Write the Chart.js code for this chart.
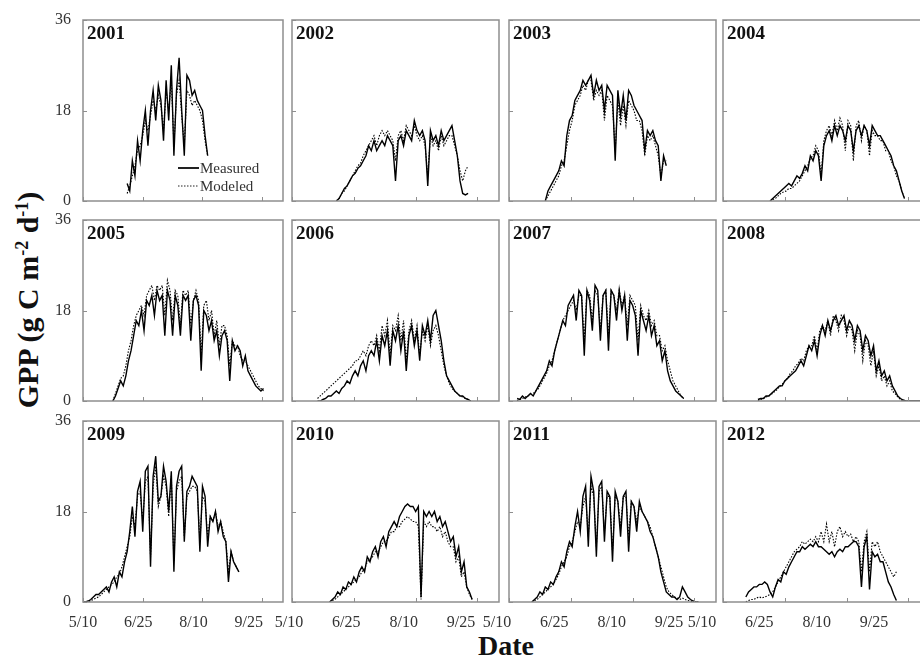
<!DOCTYPE html>
<html lang="en">
<head>
<meta charset="UTF-8">
<title>GPP measured vs modeled, 2001-2012</title>
<script src="https://cdn.jsdelivr.net/npm/chart.js"></script>
<style>
  body { margin: 0; background: #fff; }
  #wrap { position: relative; width: 920px; height: 657px; overflow: hidden; font-family: "Liberation Serif", serif; }
  #wrap canvas { position: absolute; }
  .ytitle { position: absolute; left: 28px; top: 300px; transform: translate(-50%, -50%) rotate(-90deg);
            font-weight: bold; font-size: 30px; white-space: nowrap; color: #111; }
  .ytitle sup { font-size: 0.6em; vertical-align: 0.55em; }
  .xtitle { position: absolute; left: 506px; top: 646px; transform: translate(-50%, -50%);
            font-weight: bold; font-size: 28px; color: #111; }
</style>
</head>
<body>
<div id="wrap">
  <div class="ytitle">GPP (g C m<sup>-2</sup> d<sup>-1</sup>)</div>
  <div class="xtitle">Date</div>
</div>
<script>
// day-of-year ticks shared by every panel
const tickDays = [130, 176, 222, 268];
const tickLabels = ['5/10', '6/25', '8/10', '9/25'];
const yTicks = [0, 18, 36];
const years = [2001, 2002, 2003, 2004, 2005, 2006, 2007, 2008, 2009, 2010, 2011, 2012];
// first day of year of each series, values every 2 days after that
const firstDay = [164, 163, 157, 165, 153, 149, 136, 156, 130, 158, 147, 147];
const dayStep = 2;

const measured2001 = [3.5,2,8,5,12,8,14,18,11,18,22,16,23,20,12,24,16,27,9,22,28.5,18,9,25,24,21,22,20,19,18,13,9];
const modeled2001 = [1.5,3,5,7,10,11,13,16,14,17,20,18,21,19,14,22,18,24,11,21,24,17,11,22,21,19,20,19,18,16,12,9];

const measured2002 = [0,0.5,1.5,2.5,3,4,5,5.5,6.5,7,8,9,11,10,12,10,11,12,11,13,12,11,4,12,13,11,14,13,12,16,14,13,14,12,3,14,12,13,11,14,12,13,14,15,12,9,4,1.5,1.2,1.5];
const modeled2002 = [0,0.5,1.5,2,3,4,5,6,7,7.5,9,10,11,12,13,11,13,14,13,14,13,12,8,13,14,12,15,14,13,15,13,12,13,11,5,13,11,12,10,13,11,12,13,13,11,9,6,4,6,7];

const measured2003 = [0,2,3,4,5,6,8,7,13,16,17,20,21,22,24,23,24,25,21,24,22,23,18,23,22,21,8,22,17,21,16,22,21,19,18,17,16,10,14,13,14,12,11,4,9,7];
const modeled2003 = [0,1,2,3,4,5,7,8,11,14,16,19,20,21,23,22,24,24,20,22,21,22,16,21,20,19,10,20,15,19,15,20,19,18,16,16,14,9,13,12,13,11,9,5,8,8];

const measured2004 = [0,0.5,1,1.5,2,2.5,3,3.5,3,4,5,4.5,5.5,7,6,9,8,10,9,4,11,13,14,12,15,13,15,14,12,15,14,10,14,15,13,15,14,11,15,14,13,13,12,11,10,9,7,6,4,2,0.5];
const modeled2004 = [0,0.3,0.5,1,1.5,1.8,2,2.5,2.5,3,3.5,4,5,6,7,8.5,9,11,10,5,12,14,15,13,16,14,16.5,15,10,16,15,8,15,16,12,15,14,9,14,13,13,12,12,10,10,8,7,5,4,2,0.5];

const measured2005 = [0,1,2.5,4,3,5,8,10,13,16,15,18,14,20,19,21,17,22,20,21,13,22,20,13,21,19,13,21,20,21,12,20,21,19,6,18,17,14,16,12,14,9,13,14,12,4,12,10,11,10,7,9,6,5,4,3,2.5,2,2.5];
const modeled2005 = [0,1.5,3,4.5,5,7,10,12,15,17,18,19,17,21,22,23,20,23,22,23,17,24,22,16,22,21,15,22,21,22,15,20,22,20,9,19,20,16,18,13,16,11,15,15,13,7,12,11,11,9,8,8,7,6,5,4,3,2.5,2];

const measured2006 = [0,0,0.3,0.5,1,1,1.5,2,1.5,2.5,3,4,3.5,5,6,5,7,8,6,9,10,9,12,8,13,11,14,7,14,12,15,10,14,6,13,15,11,14,8,15,13,16,12,17,18,15,12,8,5,4,3,2,1.5,1,1,0.5,0.3,0];
const modeled2006 = [0.5,1,1.5,2,2.5,3,3.5,4,4.5,5,5.5,6,6.5,7,8,8,9,10,9,11,12,11,13,10,15,13,16,9,15,14,17,12,16,8,14,16,12,15,9,14,12,15,11,14,15,13,10,7,5,3.5,2.5,2,1.5,1,0.8,0.5,0.3,0];

const measured2007 = [0.5,0.3,1,0.5,1,1.5,1,2,3,4,5,6,8,7,10,12,14,16,15,19,20,21,16,22,21,9,22,20,14,23,22,12,21,22,10,22,21,16,22,18,21,12,20,19,17,9,18,16,14,17,13,15,11,12,8,10,6,4,3,2,1.5,1,0.5];
const modeled2007 = [0,0.3,0.5,0.8,1,1.2,1.5,2,2.5,3.5,4.5,5.5,7,8,10,12,14,16,17,18,19,20,18,21,21,12,22,21,16,22,21,14,21,22,13,22,21,18,22,19,21,15,21,20,19,12,19,17,16,18,15,16,13,13,10,11,8,6,4,3,2,1,0.5];

const measured2008 = [0.3,0.5,0.5,1,1,1.5,2,2.5,3,3,4,4.5,5,5.5,6,7,8,7,9,11,10,12,9,13,15,13,16,14,16,17,15,16,17,14,16,15,12,15,14,10,13,12,9,11,6,8,5,6,4,5,3,2,1,0.5,0.2,0,0,0,0,0,0,0,0,0];
const modeled2008 = [0,0.3,0.5,0.8,1,1.3,1.8,2.2,2.8,3.3,4,4.5,5.5,6,7,7.5,8.5,8,10,11,11,13,10,14,15,14,16,13,17,16,14,17,16,13,15,14,10,14,13,8,12,11,7,10,5,7,4,5,3,4,2,1.5,0.8,0.3,0,0];

const measured2009 = [0,0,0.2,0.5,1,1.5,1.5,2,2.5,3,2,4,5,3,6,5,8,10,14,19,13,22,24,14,26,27,7,25,29,20,21,27,24,18,26,6,23,26,27,12,22,23,25,24,23,10,23,21,11,17,16,18,14,16,13,12,4,10,8,7,6];
const modeled2009 = [0,0,0,0.3,0.5,0.8,1,1.5,2,2.5,3,3.5,4,5,5.5,7,9,11,13,17,15,21,22,16,24,25,9,23,27,19,21,25,23,17,25,8,22,24,25,13,21,22,23,23,22,12,21,20,13,17,16,18,15,16,14,12,6,10,8,7,6];

const measured2010 = [0,0.5,1,2,1.5,3,2.5,4,3.5,5,4,6,7,6,9,8,10,11,9,12,13,11,14,15,16,15,17,18,19,19.5,19,19,18,19,1,18,17,18,17,18,16,17,15,16,14,12,13,9,11,6,8,3,2,0.5];
const modeled2010 = [0,0.3,0.5,1,1.5,2,2.5,3,3.5,4,4.5,5,6,6.5,8,8.5,9,10,10,11,12,12,13,14,14,15,15,16,16.5,17,16.5,16,16,15,0.5,16,15,16,15,15,14,15,13,14,12,11,11,8,9,5,6,3,1.5,0.5];

const measured2011 = [0,0.5,1,2,1.5,3,2.5,4,3.5,5,6,8,7,10,12,11,15,18,14,21,23,11,25,22,9,23,24,12,22,21,8,22,20,13,21,22,10,20,19,14,20,18,17,16,14,13,11,9,6,4,2,1.5,1,1,0.5,1,3,2,1,0.5,0.2,0,0];
const modeled2011 = [0,0.3,0.5,1,1.5,2,2.5,3,3.5,4.5,5.5,7,8,9,11,12,14,16,15,19,21,13,23,21,11,22,23,14,21,21,10,21,20,15,21,21,13,20,19,16,19,18,17,16,15,13,11,9,7,5,3,2,1.5,1,0.8,0.5,0.8,0.5,0.3,0.2,0,0,0];

const measured2012 = [1,2,2.5,3,3,3.5,3.5,4,3.5,2,1,3,4.5,4,6,5.5,7,8,9,10,10,11,10.5,11,11.5,11,12,11,11,10.5,10,9.5,10,9,10,10.5,10,11,11,11.5,12,12,11,3,11,13,2.5,10,9,9.5,8,8,6,4,3,1.5,0.3];
const modeled2012 = [0,0.3,0.5,0.5,0.8,1,0.8,1,1.2,1.5,2,3,4,5,6,7,8,9,10,10.5,11,12,11.5,12,12.5,12,13,12,14,12,15.5,12,14,11,14,15,13,14,13,13.5,12,13,12,6,12,14,6,12,11,12,10,9,8,7,6,5,6];

const measuredByYear = [measured2001, measured2002, measured2003, measured2004, measured2005, measured2006,
                        measured2007, measured2008, measured2009, measured2010, measured2011, measured2012];
const modeledByYear = [modeled2001, modeled2002, modeled2003, modeled2004, modeled2005, modeled2006,
                       modeled2007, modeled2008, modeled2009, modeled2010, modeled2011, modeled2012];

// panel layout (plot box of each small chart)
const colLeft = [83, 292, 509, 723];
const colWidth = [200, 207, 207, 207];
const rowTop = [20, 220, 421];
const rowHeight = 181;
// date labels sit a little left of their ticks, more so further right
const labelShift = [0, -3, -12, -21];
const labelDrift = -4.5;
const PAD_L = 70, PAD_T = 12, PAD_R = 4, PAD_B = 40;
const FONT = '"Liberation Serif", "Times New Roman", serif';

function toPoints(values, start) {
  return values.map((v, i) => ({ x: start + i * dayStep, y: v }));
}

// box, inward tick marks, date labels, year label and (first panel) the legend
const panelDecor = {
  id: 'panelDecor',
  afterDraw(chart) {
    const o = chart.options.plugins.panelDecor;
    const { ctx, chartArea: a, scales } = chart;
    ctx.save();
    ctx.strokeStyle = '#8e8e8e';
    ctx.lineWidth = 1.5;
    ctx.strokeRect(a.left, a.top, a.width, a.height);
    ctx.beginPath();
    scales.x.ticks.forEach(t => {
      const px = Math.round(scales.x.getPixelForValue(t.value)) + 0.5;
      ctx.moveTo(px, a.bottom);
      ctx.lineTo(px, a.bottom - 4);
    });
    scales.y.ticks.forEach(t => {
      const py = Math.round(scales.y.getPixelForValue(t.value)) + 0.5;
      ctx.moveTo(a.left, py);
      ctx.lineTo(a.left + 4, py);
    });
    ctx.lineWidth = 1;
    ctx.stroke();

    if (o.dateLabels) {
      ctx.fillStyle = '#333';
      ctx.font = '16px ' + FONT;
      ctx.textAlign = 'center';
      ctx.textBaseline = 'middle';
      scales.x.ticks.forEach((t, i) => {
        const px = scales.x.getPixelForValue(t.value) + o.shift + i * labelDrift;
        ctx.fillText(tickLabels[tickDays.indexOf(t.value)], px, a.bottom + 21);
      });
      ctx.textAlign = 'left';
    }

    ctx.fillStyle = '#111';
    ctx.font = 'bold 19px ' + FONT;
    ctx.textBaseline = 'top';
    ctx.fillText(String(o.year), a.left + 4, a.top + 5);

    if (o.legend) {
      ctx.font = '15px ' + FONT;
      ctx.fillStyle = '#333';
      ctx.textBaseline = 'middle';
      chart.data.datasets.forEach((ds, i) => {
        const y = a.bottom - 33 + i * 18;
        const x0 = a.right - 105;
        ctx.beginPath();
        ctx.setLineDash(ds.borderDash || []);
        ctx.strokeStyle = '#222';
        ctx.lineWidth = ds.borderDash ? 1 : 2;
        ctx.moveTo(x0, y);
        ctx.lineTo(x0 + 21, y);
        ctx.stroke();
        ctx.setLineDash([]);
        ctx.fillText(ds.label, x0 + 22, y + 1);
      });
    }
    ctx.restore();
  }
};

const wrap = document.getElementById('wrap');

years.forEach((year, k) => {
  const row = Math.floor(k / 4), col = k % 4;
  const cv = document.createElement('canvas');
  cv.width = PAD_L + colWidth[col] + PAD_R;
  cv.height = PAD_T + rowHeight + PAD_B;
  cv.style.left = (colLeft[col] - PAD_L) + 'px';
  cv.style.top = (rowTop[row] - PAD_T) + 'px';
  wrap.appendChild(cv);

  new Chart(cv, {
    type: 'line',
    data: {
      datasets: [
        { label: 'Measured', data: toPoints(measuredByYear[k], firstDay[k]),
          borderColor: '#000', borderWidth: 1.4, pointRadius: 0, tension: 0 },
        { label: 'Modeled', data: toPoints(modeledByYear[k], firstDay[k]),
          borderColor: '#000', borderWidth: 1.1, borderDash: [1.5, 1.5], pointRadius: 0, tension: 0 }
      ]
    },
    options: {
      responsive: false,
      animation: false,
      devicePixelRatio: 1,
      layout: { padding: { top: PAD_T, right: PAD_R, left: 0, bottom: 0 } },
      plugins: {
        legend: { display: false },
        tooltip: { enabled: false },
        panelDecor: { year: year, legend: k === 0, dateLabels: row === 2, shift: labelShift[col] }
      },
      scales: {
        x: {
          type: 'linear', min: 130, max: 284,
          grid: { display: false, drawTicks: false },
          border: { display: false },
          afterBuildTicks: ax => { ax.ticks = tickDays.map(v => ({ value: v })); },
          afterFit: ax => { ax.height = PAD_B; ax.paddingLeft = 0; ax.paddingRight = 0; },
          ticks: { display: false }
        },
        y: {
          min: 0, max: 36,
          grid: { display: false, drawTicks: false },
          border: { display: false },
          afterBuildTicks: ax => { ax.ticks = yTicks.map(v => ({ value: v })); },
          afterFit: ax => { ax.width = PAD_L; ax.paddingTop = 0; ax.paddingBottom = 0; },
          ticks: {
            display: col === 0, padding: 12,
            color: '#333', font: { family: FONT, size: 16 }
          }
        }
      }
    },
    plugins: [panelDecor]
  });
});
</script>
</body>
</html>
